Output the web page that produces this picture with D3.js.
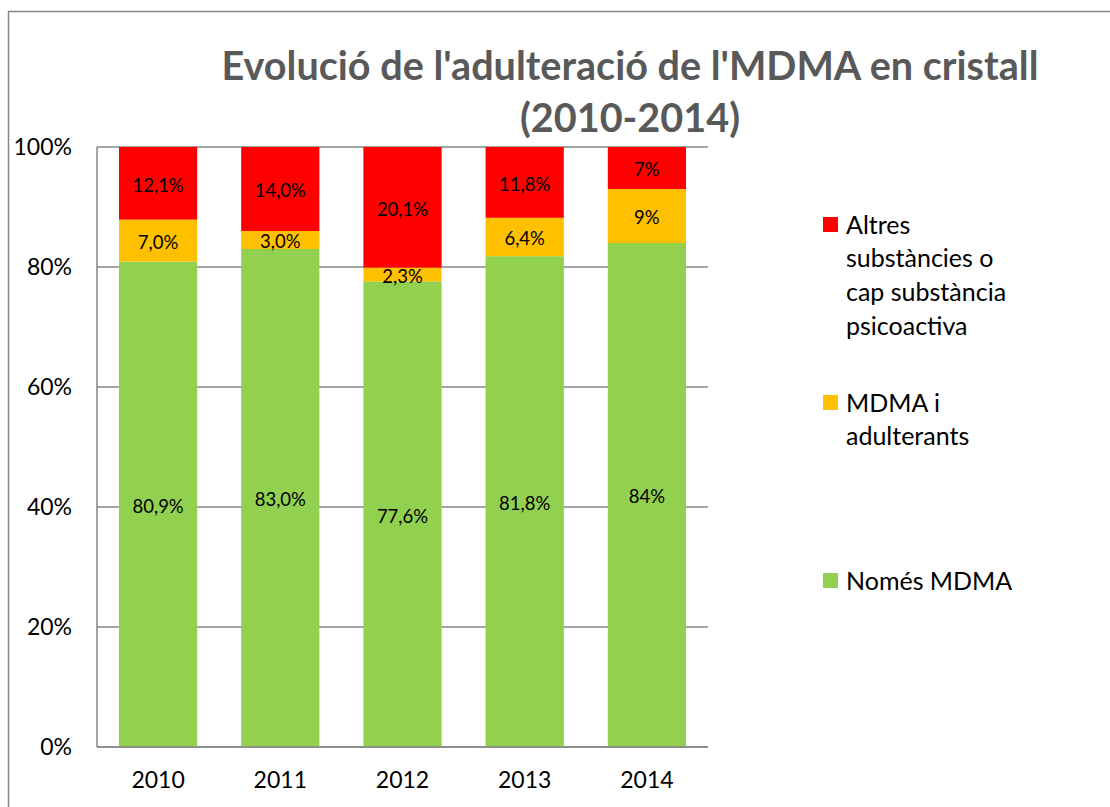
<!DOCTYPE html>
<html>
<head>
<meta charset="utf-8">
<script src="https://cdn.jsdelivr.net/npm/d3@7.9.0/dist/d3.min.js"></script>
<style>
  body { margin: 0; background: #fff; }
  svg { display: block; font-family: Lato, 'Open Sans', sans-serif; }
</style>
</head>
<body>
<svg id="chart" width="1110" height="807"></svg>
<script>
const years = ['2010', '2011', '2012', '2013', '2014'];
const nomesMdma = [80.9, 83.0, 77.6, 81.8, 84];
const mdmaAdulterants = [7.0, 3.0, 2.3, 6.4, 9];
const altres = [12.1, 14.0, 20.1, 11.8, 7];
const labelsNomes = ['80,9%', '83,0%', '77,6%', '81,8%', '84%'];
const labelsMdma = ['7,0%', '3,0%', '2,3%', '6,4%', '9%'];
const labelsAltres = ['12,1%', '14,0%', '20,1%', '11,8%', '7%'];
const yTicks = [0, 20, 40, 60, 80, 100];

const series = [
  { name: 'Només MDMA', values: nomesMdma, labels: labelsNomes, color: '#92d050' },
  { name: 'MDMA i adulterants', values: mdmaAdulterants, labels: labelsMdma, color: '#ffc000' },
  { name: 'Altres substàncies o cap substància psicoactiva', values: altres, labels: labelsAltres, color: '#ff0000' }
];

const svg = d3.select('#chart');
const margin = { left: 97, top: 147, right: 708, bottom: 747 };

// chart border
svg.append('rect')
  .attr('x', 8.5).attr('y', 11.5)
  .attr('width', 1200).attr('height', 1000)
  .attr('fill', 'none').attr('stroke', '#868686').attr('stroke-width', 1.5);

const x = d3.scaleBand().domain(years)
  .range([margin.left, margin.right])
  .paddingInner(0.36).paddingOuter(0.18);
const y = d3.scaleLinear().domain([0, 100]).range([margin.bottom, margin.top]);

// gridlines
svg.append('g')
  .selectAll('line')
  .data(yTicks)
  .join('line')
  .attr('x1', margin.left).attr('x2', margin.right)
  .attr('y1', d => y(d)).attr('y2', d => y(d))
  .attr('stroke', '#868686').attr('stroke-width', 1.5);

// stacked bars
const stackRows = years.map((yr, i) => ({
  year: yr,
  s0: nomesMdma[i], s1: mdmaAdulterants[i], s2: altres[i]
}));
const stacked = d3.stack().keys(['s0', 's1', 's2'])(stackRows);

stacked.forEach((layer, k) => {
  const g = svg.append('g');
  g.selectAll('rect')
    .data(layer)
    .join('rect')
    .attr('x', d => x(d.data.year))
    .attr('width', x.bandwidth())
    .attr('y', d => y(Math.min(d[1], 100)))
    .attr('height', d => y(d[0]) - y(Math.min(d[1], 100)))
    .attr('fill', series[k].color);
  g.selectAll('text')
    .data(layer)
    .join('text')
    .attr('x', d => x(d.data.year) + x.bandwidth() / 2)
    .attr('y', d => (y(d[0]) + y(Math.min(d[1], 100))) / 2 + 2)
    .attr('dy', '0.35em')
    .attr('text-anchor', 'middle')
    .attr('font-size', 18.5)
    .attr('fill', '#000')
    .text((d, i) => series[k].labels[i]);
});

// axis lines
svg.append('line')
  .attr('x1', margin.left).attr('x2', margin.left)
  .attr('y1', margin.top).attr('y2', margin.bottom)
  .attr('stroke', '#868686').attr('stroke-width', 1.5);
svg.append('line')
  .attr('x1', margin.left).attr('x2', margin.right)
  .attr('y1', margin.bottom).attr('y2', margin.bottom)
  .attr('stroke', '#868686').attr('stroke-width', 1.5);

// y labels
svg.append('g')
  .selectAll('text')
  .data(yTicks)
  .join('text')
  .attr('x', 72).attr('y', d => y(d))
  .attr('dy', '0.35em')
  .attr('text-anchor', 'end')
  .attr('font-size', 23)
  .attr('fill', '#000')
  .text(d => d + '%');

// x labels
svg.append('g')
  .selectAll('text')
  .data(years)
  .join('text')
  .attr('x', d => x(d) + x.bandwidth() / 2)
  .attr('y', 780)
  .attr('dy', '0.35em')
  .attr('text-anchor', 'middle')
  .attr('font-size', 23)
  .attr('fill', '#000')
  .text(d => d);

// title
const titleLines = ["Evolució de l'adulteració de l'MDMA en cristall", '(2010-2014)'];
svg.append('g')
  .selectAll('text')
  .data(titleLines)
  .join('text')
  .attr('x', 630)
  .attr('y', (d, i) => 66 + i * 52)
  .attr('dy', '0.35em')
  .attr('text-anchor', 'middle')
  .attr('font-size', 39.6)
  .attr('font-weight', 'bold')
  .attr('fill', '#595959')
  .text(d => d);

// legend
const legendItems = [
  { color: '#ff0000', lines: ['Altres', 'substàncies o', 'cap substància', 'psicoactiva'], y: 225 },
  { color: '#ffc000', lines: ['MDMA i', 'adulterants'], y: 403 },
  { color: '#92d050', lines: ['Només MDMA'], y: 581 }
];
const legend = svg.append('g');
legendItems.forEach(item => {
  legend.append('rect')
    .attr('x', 823).attr('y', item.y - 8)
    .attr('width', 15).attr('height', 15)
    .attr('fill', item.color);
  legend.append('text')
    .attr('font-size', 25)
    .attr('fill', '#000')
    .selectAll('tspan')
    .data(item.lines)
    .join('tspan')
    .attr('x', 846)
    .attr('y', (d, i) => item.y + i * 33.7)
    .attr('dy', '0.35em')
    .text(d => d);
});
</script>
</body>
</html>
